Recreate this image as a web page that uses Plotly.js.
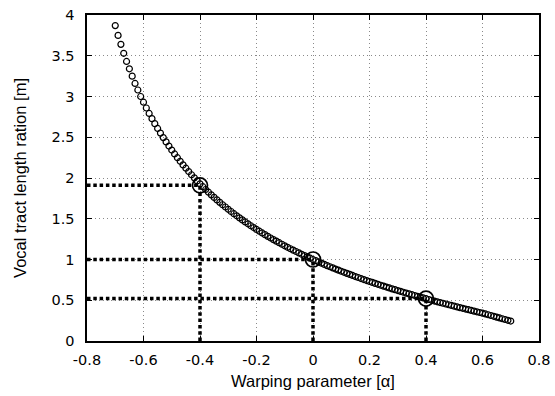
<!DOCTYPE html>
<html>
<head>
<meta charset="utf-8">
<script src="https://cdn.plot.ly/plotly-3.0.1.min.js"></script>
<style>html,body{margin:0;padding:0;background:#fff;}#chart{width:555px;height:396px;}</style>
</head>
<body>
<div id="chart"></div>
<script>
// Warping parameter (alpha) sampled values
const alpha = [
-0.70,-0.69,-0.68,-0.67,-0.66,-0.65,-0.64,-0.63,-0.62,-0.61,
-0.60,-0.59,-0.58,-0.57,-0.56,-0.55,-0.54,-0.53,-0.52,-0.51,
-0.50,-0.49,-0.48,-0.47,-0.46,-0.45,-0.44,-0.43,-0.42,-0.41,
-0.40,-0.39,-0.38,-0.37,-0.36,-0.35,-0.34,-0.33,-0.32,-0.31,
-0.30,-0.29,-0.28,-0.27,-0.26,-0.25,-0.24,-0.23,-0.22,-0.21,
-0.20,-0.19,-0.18,-0.17,-0.16,-0.15,-0.14,-0.13,-0.12,-0.11,
-0.10,-0.09,-0.08,-0.07,-0.06,-0.05,-0.04,-0.03,-0.02,-0.01,
0.00,0.01,0.02,0.03,0.04,0.05,0.06,0.07,0.08,0.09,
0.10,0.11,0.12,0.13,0.14,0.15,0.16,0.17,0.18,0.19,
0.20,0.21,0.22,0.23,0.24,0.25,0.26,0.27,0.28,0.29,
0.30,0.31,0.32,0.33,0.34,0.35,0.36,0.37,0.38,0.39,
0.40,0.41,0.42,0.43,0.44,0.45,0.46,0.47,0.48,0.49,
0.50,0.51,0.52,0.53,0.54,0.55,0.56,0.57,0.58,0.59,
0.60,0.61,0.62,0.63,0.64,0.65,0.66,0.67,0.68,0.69,
0.70
];

// Vocal tract length ratio
const ratio = [
3.87,3.75,3.64,3.53,3.43,3.34,3.25,3.16,3.08,3.00,
2.93,2.859,2.792,2.728,2.667,2.608,2.551,2.496,2.443,2.392,
2.343,2.295,2.249,2.205,2.161,2.120,2.079,2.040,2.002,1.964,
1.928,1.893,1.859,1.826,1.793,1.762,1.731,1.701,1.672,1.644,
1.616,1.589,1.562,1.536,1.511,1.486,1.461,1.438,1.414,1.392,
1.369,1.347,1.326,1.305,1.284,1.264,1.244,1.225,1.206,1.187,
1.168,1.150,1.132,1.115,1.098,1.081,1.064,1.048,1.032,1.016,
1.000,0.985,0.970,0.955,0.940,0.925,0.911,0.897,0.883,0.870,
0.856,0.843,0.830,0.817,0.804,0.791,0.779,0.766,0.754,0.742,
0.730,0.719,0.707,0.696,0.684,0.673,0.662,0.651,0.640,0.630,
0.619,0.609,0.598,0.588,0.578,0.568,0.558,0.548,0.538,0.528,
0.519,0.509,0.500,0.490,0.481,0.472,0.463,0.454,0.445,0.436,
0.427,0.418,0.409,0.401,0.392,0.384,0.375,0.367,0.358,0.350,
0.341,0.332,0.322,0.313,0.303,0.293,0.283,0.273,0.264,0.254,
0.245
];

// Highlighted points
const markedAlpha = [-0.4, 0.0, 0.4];
const markedRatio = [1.91, 1.0, 0.52];

// Axis ticks
const xTickVals = [-0.8,-0.6,-0.4,-0.2,0,0.2,0.4,0.6,0.8];
const xTickText = ["-0.8","-0.6","-0.4","-0.2","0","0.2","0.4","0.6","0.8"];
const yTickVals = [0,0.5,1,1.5,2,2.5,3,3.5,4];
const yTickText = ["0","0.5","1","1.5","2","2.5","3","3.5","4"];

const xRange = [-0.8, 0.8];
const yRange = [0, 4];

const dotLine = {color: '#000', width: 3.5, dash: '3.5px,2.8px'};
const traces = [];

markedAlpha.forEach((a, i) => {
  traces.push({x: [xRange[0], a], y: [markedRatio[i], markedRatio[i]], mode: 'lines',
    line: dotLine, hoverinfo: 'skip', showlegend: false, cliponaxis: false});
  traces.push({x: [a, a], y: [yRange[0], markedRatio[i]], mode: 'lines',
    line: dotLine, hoverinfo: 'skip', showlegend: false, cliponaxis: false});
});

traces.push({x: alpha, y: ratio, mode: 'markers', showlegend: false,
  marker: {symbol: 'circle-open', size: 6, color: '#000', line: {width: 1.2, color: '#000'}}});

traces.push({x: markedAlpha, y: markedRatio, mode: 'markers', showlegend: false,
  marker: {symbol: 'circle-open', size: 15, color: '#000', line: {width: 1.7, color: '#000'}}});

const axisCommon = {
  showline: true, linecolor: '#000', linewidth: 1.6, mirror: 'ticks',
  ticks: 'inside', ticklen: 5, tickwidth: 1, tickcolor: '#000',
  showgrid: true, gridcolor: '#8a8a8a', griddash: '1px,3px', gridwidth: 1,
  zeroline: false,
  tickfont: {family: 'DejaVu Sans, sans-serif', size: 14.5, color: '#000'}
};

const layout = {
  width: 555, height: 396,
  margin: {l: 87, r: 16, t: 15, b: 55},
  paper_bgcolor: '#fff', plot_bgcolor: '#fff',
  font: {family: 'Liberation Sans, Arial, sans-serif', size: 13, color: '#000'},
  xaxis: Object.assign({}, axisCommon, {
    range: xRange, tickmode: 'array', tickvals: xTickVals, ticktext: xTickText,
    ticklabelstandoff: 5,
    title: {text: 'Warping parameter [α]', font: {size: 16.5}, standoff: 8}
  }),
  yaxis: Object.assign({}, axisCommon, {
    range: yRange, tickmode: 'array', tickvals: yTickVals, ticktext: yTickText,
    ticklabelstandoff: 8,
    title: {text: 'Vocal tract length ration [m]', font: {size: 16.5}, standoff: 20}
  })
};

Plotly.newPlot('chart', traces, layout, {staticPlot: true, displayModeBar: false});
</script>
</body>
</html>
